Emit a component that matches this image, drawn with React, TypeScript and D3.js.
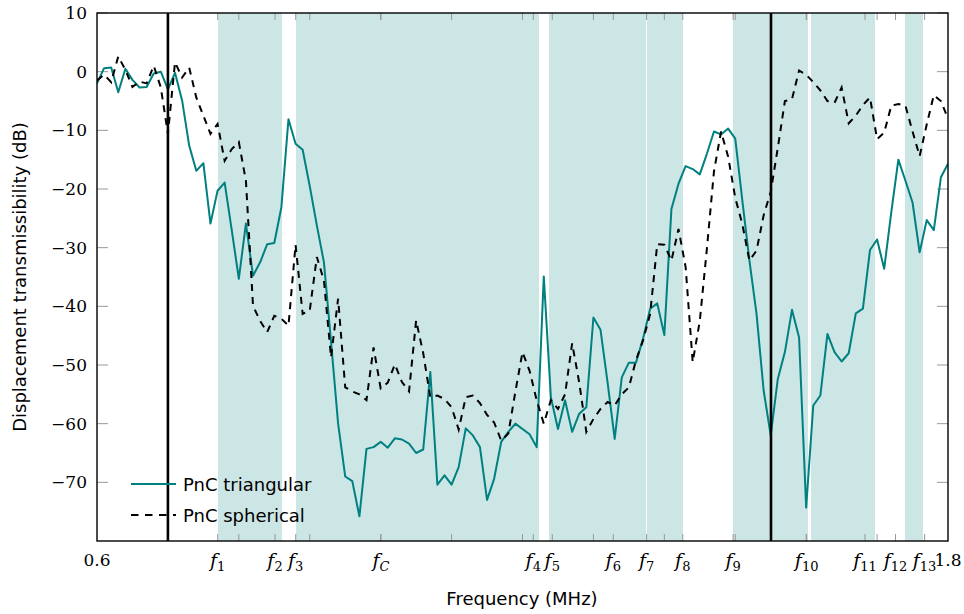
import React from "react";
import * as d3 from "d3";

// ---- data ----
const freqStart = 0.6;
const freqStep = 0.01;

const triangular = [
  -2.0, 0.6, 0.7, -3.5, 0.5, -1.4, -2.7, -2.6, -0.3, 0.0,
  -3.0, -0.2, -4.9, -12.6, -16.9, -15.6, -25.9, -20.3, -18.9, -27.0,
  -35.3, -25.9, -34.8, -32.5, -29.4, -29.2, -23.1, -8.1, -12.3, -13.3,
  -19.5, -26.2, -32.5, -46.0, -60.0, -69.0, -69.8, -75.8, -64.3, -64.0,
  -63.1, -64.1, -62.5, -62.7, -63.4, -65.0, -64.4, -51.2, -70.4, -68.8,
  -70.4, -67.4, -60.8, -62.0, -64.0, -73.0, -69.4, -63.1, -61.4, -60.0,
  -60.9, -61.8, -64.0, -34.9, -55.5, -60.9, -56.0, -61.4, -58.3, -57.2,
  -41.9, -44.0, -53.0, -62.6, -52.1, -49.6, -49.6, -45.5, -40.4, -39.5,
  -44.9, -23.4, -19.1, -16.1, -16.6, -17.5, -14.0, -10.2, -10.7, -9.7,
  -11.4, -22.0, -32.2, -41.3, -54.3, -62.0, -52.4, -47.8, -40.6, -45.3,
  -74.3, -56.9, -55.2, -44.7, -47.8, -49.4, -48.0, -41.2, -40.4, -30.4,
  -28.6, -33.6, -24.0, -15.0, -18.6, -22.3, -30.8, -25.3, -27.0, -18.0,
  -15.7,
];

const spherical = [
  -1.5, -0.5, -1.8, 2.6, 0.3, -2.6, -1.7, -2.0, 1.0, -2.7,
  -10.6, 1.6, -1.0, 0.7, -4.4, -7.5, -10.6, -8.9, -15.2, -13.2,
  -12.0, -18.6, -39.9, -42.5, -44.4, -41.6, -42.1, -43.3, -29.5, -41.3,
  -40.7, -31.6, -35.6, -48.7, -38.7, -53.8, -54.5, -55.0, -56.0, -47.0,
  -54.0, -53.0, -49.9, -52.9, -54.5, -42.4, -48.0, -55.5, -55.2, -55.8,
  -57.2, -61.0, -55.5, -55.2, -56.5, -58.5, -59.8, -62.9, -61.7, -54.5,
  -47.8, -51.0, -56.0, -60.0, -56.0, -57.5, -55.0, -46.3, -53.0, -61.4,
  -59.2, -57.5, -56.3, -56.9, -55.0, -53.8, -49.2, -45.8, -41.3, -29.4,
  -29.5, -32.2, -26.8, -33.3, -49.5, -42.5, -30.2, -17.0, -10.2, -14.5,
  -21.5, -26.0, -32.2, -30.5, -24.5, -20.5, -13.0, -5.0, -4.7, 0.2,
  -0.5, -1.8, -3.2, -5.0, -5.3, -2.7, -8.8, -7.5, -5.7, -4.4,
  -11.5, -10.4, -5.8, -5.5, -5.8, -10.2, -14.4, -9.0, -4.0, -5.0,
  -8.0,
];

// shaded band-gap ranges [start, end] in MHz
const bandStarts = [0.7706, 0.8806, 1.2373, 1.3755, 1.4968, 1.6068, 1.7393];
const bandEnds = [0.8609, 1.2232, 1.3741, 1.4263, 1.6025, 1.6971, 1.7647];

// vertical reference lines (MHz)
const refLines = [0.7, 1.5504];

// x ticks
const minorTicks = [0.7, 0.8, 0.9, 1.0, 1.1, 1.2, 1.3, 1.4, 1.5, 1.6, 1.7];
const fTickValues = [0.7702, 0.851, 0.8802, 1.0005, 1.2152, 1.242, 1.328, 1.375, 1.426, 1.497, 1.6007, 1.683, 1.726, 1.767];
const fTickSubs = ["1", "2", "3", "C", "4", "5", "6", "7", "8", "9", "10", "11", "12", "13"];
const endTickValues = [0.6, 1.8];
const endTickLabels = ["0.6", "1.8"];

const yTicks = [10, 0, -10, -20, -30, -40, -50, -60, -70];

const seriesNames = ["PnC triangular", "PnC spherical"];

// ---- layout ----
const W = 964;
const H = 614;
const left = 97;
const right = 948;
const top = 13;
const bottom = 541;

const TEAL = "#008080";
const BAND = "#cce5e5";
const SANS = "'DejaVu Sans', Verdana, sans-serif";
const SERIF = "'DejaVu Serif', serif";

export default function App() {
  const x = d3.scaleLinear().domain([0.6, 1.8]).range([left, right]);
  const y = d3.scaleLinear().domain([-80, 10]).range([bottom, top]);

  const freqs = triangular.map((_, i) => freqStart + i * freqStep);
  const line = d3
    .line<number>()
    .x((_, i) => x(freqs[i]))
    .y((d) => y(d));

  const fmtMinus = (v: number) => (v < 0 ? "\u2212" + Math.abs(v) : String(v));

  return (
    <svg
      width={W}
      height={H}
      style={{ position: "absolute", left: 0, top: 0, background: "#fff" }}
    >
      <defs>
        <clipPath id="plotClip">
          <rect x={left} y={top} width={right - left} height={bottom - top} />
        </clipPath>
      </defs>

      {/* bands */}
      {bandStarts.map((s, i) => (
        <rect
          key={"b" + i}
          x={x(s)}
          y={top}
          width={x(bandEnds[i]) - x(s)}
          height={bottom - top}
          fill={BAND}
        />
      ))}

      {/* y ticks left and right */}
      {yTicks.map((t) => (
        <g key={"yt" + t}>
          <line x1={left} x2={left + 11} y1={y(t)} y2={y(t)} stroke="#999" strokeWidth={1} />
          <line x1={right - 11} x2={right} y1={y(t)} y2={y(t)} stroke="#999" strokeWidth={1} />
          <text
            x={87}
            y={y(t)}
            dy="0.36em"
            textAnchor="end"
            fontFamily={SERIF}
            fontSize={17}
            fill="#000"
          >
            {fmtMinus(t)}
          </text>
        </g>
      ))}

      {/* x ticks top and bottom */}
      {[...minorTicks, ...fTickValues].map((t, i) => (
        <g key={"xt" + i}>
          <line x1={x(t)} x2={x(t)} y1={bottom} y2={bottom - 7} stroke="#999" strokeWidth={1} />
          <line x1={x(t)} x2={x(t)} y1={top} y2={top + 7} stroke="#999" strokeWidth={1} />
        </g>
      ))}

      {/* lines */}
      <g clipPath="url(#plotClip)">
        <path d={line(triangular) || ""} fill="none" stroke={TEAL} strokeWidth={2} strokeLinejoin="round" />
        <path
          d={line(spherical) || ""}
          fill="none"
          stroke="#000"
          strokeWidth={2}
          strokeDasharray="7,6"
        />
      </g>

      {/* reference lines */}
      {refLines.map((r, i) => (
        <line key={"r" + i} x1={x(r)} x2={x(r)} y1={top} y2={bottom} stroke="#000" strokeWidth={2.6} />
      ))}

      {/* frame */}
      <rect
        x={left}
        y={top}
        width={right - left}
        height={bottom - top}
        fill="none"
        stroke="#000"
        strokeWidth={1.4}
      />

      {/* x tick labels */}
      {endTickValues.map((t, i) => (
        <text
          key={"el" + i}
          x={x(t)}
          y={566}
          textAnchor="middle"
          fontFamily={SERIF}
          fontSize={17}
          fill="#000"
        >
          {endTickLabels[i]}
        </text>
      ))}
      {fTickValues.map((t, i) => (
        <text
          key={"fl" + i}
          x={x(t)}
          y={567}
          textAnchor="middle"
          fontFamily={SERIF}
          fontSize={19}
          fill="#000"
        >
          <tspan fontStyle="italic">f</tspan>
          <tspan
            fontSize={13}
            dy={4}
            fontStyle={fTickSubs[i] === "C" ? "italic" : "normal"}
          >
            {fTickSubs[i]}
          </tspan>
        </text>
      ))}

      {/* axis labels */}
      <text x={522} y={605} textAnchor="middle" fontFamily={SANS} fontSize={18} fill="#000">
        Frequency (MHz)
      </text>
      <text
        transform="translate(26,277) rotate(-90)"
        textAnchor="middle"
        fontFamily={SANS}
        fontSize={18}
        fill="#000"
      >
        Displacement transmissibility (dB)
      </text>

      {/* legend */}
      <g>
        <line x1={131} x2={176} y1={484} y2={484} stroke={TEAL} strokeWidth={2} />
        <text x={183} y={490.5} fontFamily={SANS} fontSize={18} fill="#000">
          {seriesNames[0]}
        </text>
        <line x1={131} x2={176} y1={515} y2={515} stroke="#000" strokeWidth={2} strokeDasharray="7.5,6.5" />
        <text x={183} y={521.5} fontFamily={SANS} fontSize={18} fill="#000">
          {seriesNames[1]}
        </text>
      </g>
    </svg>
  );
}
